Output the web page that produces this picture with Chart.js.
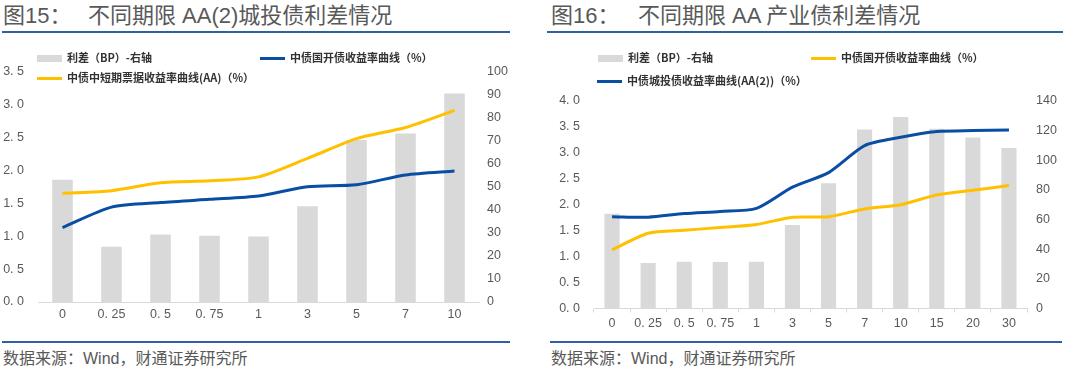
<!DOCTYPE html>
<html>
<head>
<meta charset="utf-8">
<script src="https://cdn.jsdelivr.net/npm/chart.js@4.4.1/dist/chart.umd.min.js"></script>
<style>
  body { margin: 0; background: #fff; width: 1080px; height: 372px; position: relative; overflow: hidden;
         font-family: "Liberation Sans", Arial, "Noto Sans CJK SC", sans-serif; color: #595959; }
  .t { position: absolute; top: 3px; font-size: 22px; line-height: 26px; white-space: nowrap; color: #595959;
       font-family: "Liberation Sans", Arial, "Noto Sans CJK SC", sans-serif; }
  .rule { position: absolute; height: 2px; background: #2f5fa7; }
  .src { position: absolute; top: 349px; font-size: 16px; line-height: 20px; white-space: nowrap; color: #595959; }
  .lg { position: absolute; font-family: "Noto Sans CJK SC", serif; font-size: 11px; font-weight: bold;
        color: #333; line-height: 14px; white-space: nowrap; }
  .lg i { display: inline-block; width: 25px; vertical-align: middle; margin-right: 5px; margin-top: -2px; }
  .bar { height: 7px; background: #d9d9d9; }
  .blue { height: 3px; background: #0a4ea3; }
  .yel { height: 3px; background: #ffc000; }
  canvas { position: absolute; }
</style>
</head>
<body>
<div class="t" style="left:3px">图15：</div>
<div class="t" style="left:88px">不同期限 AA(2)城投债利差情况</div>
<div class="t" style="left:551px">图16：</div>
<div class="t" style="left:638px">不同期限 AA 产业债利差情况</div>
<div class="rule" style="left:2px;width:508px;top:31px"></div>
<div class="rule" style="left:547px;width:516px;top:31px"></div>
<div class="rule" style="left:2px;width:508px;top:341px"></div>
<div class="rule" style="left:550px;width:512px;top:341px"></div>
<div class="src" style="left:3px">数据来源：Wind，财通证券研究所</div>
<div class="src" style="left:551px">数据来源：Wind，财通证券研究所</div>

<canvas id="chart-1" width="530" height="280" style="left:0;top:50px;width:530px;height:280px"></canvas>
<canvas id="chart-2" width="535" height="270" style="left:545px;top:60px;width:535px;height:270px"></canvas>

<div class="lg" style="left:37px;top:50px"><i class="bar"></i>利差（BP）-右轴</div>
<div class="lg" style="left:260px;top:50px"><i class="blue"></i>中债国开债收益率曲线（%）</div>
<div class="lg" style="left:37px;top:70px"><i class="yel"></i>中债中短期票据收益率曲线(AA)（%）</div>

<div class="lg" style="left:598px;top:50px"><i class="bar"></i>利差（BP）-右轴</div>
<div class="lg" style="left:811px;top:50px"><i class="yel"></i>中债国开债收益率曲线（%）</div>
<div class="lg" style="left:597px;top:73px"><i class="blue"></i>中债城投债收益率曲线(AA(2))（%）</div>

<script>
const terms1 = ["0", "0. 25", "0. 5", "0. 75", "1", "3", "5", "7", "10"];
const spread1 = [53, 24, 29.3, 28.7, 28.4, 41.5, 70.3, 73.1, 90.5];
const cdb1 = [1.13, 1.44, 1.51, 1.56, 1.61, 1.75, 1.78, 1.93, 1.99];
const mtnAA = [1.65, 1.69, 1.81, 1.84, 1.90, 2.18, 2.48, 2.65, 2.91];

const terms2 = ["0", "0. 25", "0. 5", "0. 75", "1", "3", "5", "7", "10", "15", "20", "30"];
const spread2 = [64, 30.7, 31.6, 31.4, 31.6, 56.3, 84.5, 120.7, 129.2, 121.3, 115.3, 108.3];
const cdb2 = [1.13, 1.45, 1.51, 1.56, 1.62, 1.76, 1.77, 1.92, 2.00, 2.19, 2.28, 2.37];
const lgfvAA2 = [1.77, 1.76, 1.83, 1.87, 1.93, 2.34, 2.62, 3.14, 3.30, 3.41, 3.43, 3.44];

const BLUE = "#0a4ea3";
const YELLOW = "#ffc000";
const GREY = "#d9d9d9";
const tickFont = { family: "Liberation Sans, Arial, sans-serif", size: 12.5 };

function leftFmt(v) {
  return v.toFixed(1).replace(".", ". ");
}

function makeChart(id, labels, bars, lineA, colA, lineB, colB, o) {
  return new Chart(document.getElementById(id), {
    type: "bar",
    data: {
      labels: labels,
      datasets: [
        { type: "line", data: lineA, borderColor: colA, borderWidth: 3, pointRadius: 0, tension: 0.25, yAxisID: "y", order: 1 },
        { type: "line", data: lineB, borderColor: colB, borderWidth: 3, pointRadius: 0, tension: 0.25, yAxisID: "y", order: 2 },
        { type: "bar", data: bars, backgroundColor: GREY, yAxisID: "y1", order: 3,
          categoryPercentage: 1, barPercentage: 0.42 },
      ],
    },
    options: {
      responsive: false,
      animation: false,
      layout: { padding: { top: o.top, bottom: 0, left: 0, right: 0 } },
      plugins: { legend: { display: false }, tooltip: { enabled: false } },
      scales: {
        x: {
          grid: { display: true, drawOnChartArea: false, drawTicks: o.ticks > 0, tickLength: o.ticks, color: GREY, offset: true },
          border: { display: true, color: GREY, width: 1 },
          ticks: { color: "#595959", font: tickFont, padding: o.xpad, maxRotation: 0, autoSkip: false },
          afterFit: (s) => { s.height = o.xh; },
        },
        y: {
          position: "left", min: 0, max: o.lmax, grid: { display: false, drawTicks: false },
          border: { display: false },
          ticks: { stepSize: 0.5, color: "#595959", font: tickFont, padding: o.lpad, callback: leftFmt },
          afterFit: (s) => { s.width = o.lw; },
        },
        y1: {
          position: "right", min: 0, max: o.rmax, grid: { display: false, drawTicks: false },
          border: { display: false },
          ticks: { stepSize: o.rstep, color: "#595959", font: tickFont, padding: o.rpad },
          afterFit: (s) => { s.width = o.rw; },
        },
      },
    },
  });
}

makeChart("chart-1", terms1, spread1, cdb1, BLUE, mtnAA, YELLOW,
  { top: 0, xh: 28, xpad: 5, ticks: 0, lmax: 3.5, rmax: 100, rstep: 10, lw: 38, lpad: 14, rw: 51, rpad: 8 });
makeChart("chart-2", terms2, spread2, lgfvAA2, BLUE, cdb2, YELLOW,
  { top: 41, xh: 21, xpad: 4, ticks: 4, lmax: 4, rmax: 140, rstep: 20, lw: 49, lpad: 14, rw: 53, rpad: 9 });
</script>
</body>
</html>
